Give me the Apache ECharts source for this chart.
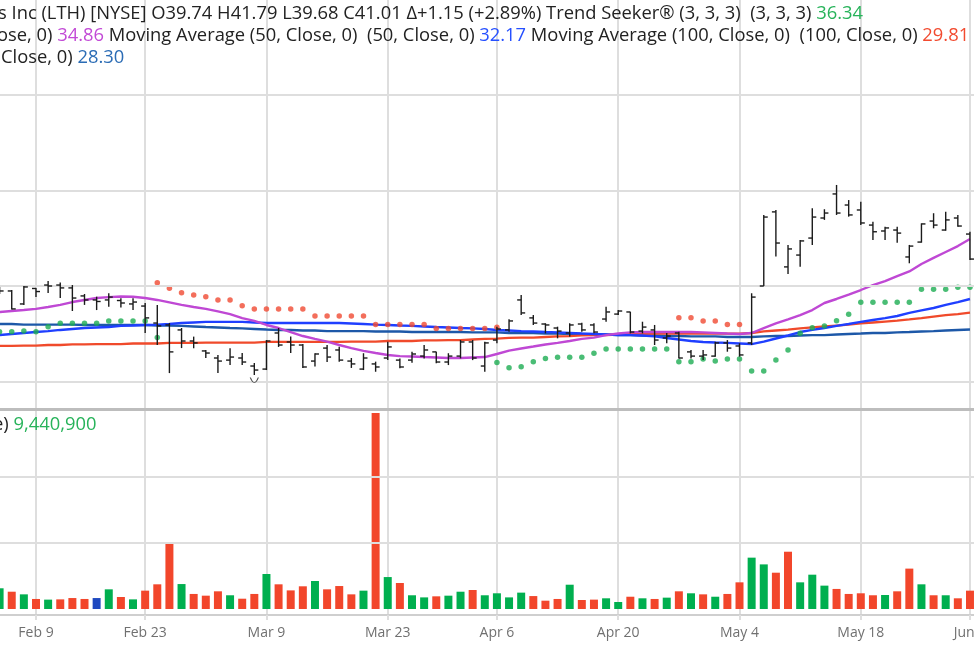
<!DOCTYPE html>
<html>
<head>
<meta charset="utf-8">
<script src="https://cdn.jsdelivr.net/npm/echarts@6/dist/echarts.min.js"></script>
<style>
  html, body { margin: 0; padding: 0; background: #fff; }
  #chart { width: 974px; height: 649px; }
</style>
</head>
<body>
<div id="chart"></div>
<script>
// trading days shown (2026), one extra empty day on the right edge
var dates = [
  '02-04','02-05','02-06','02-09','02-10','02-11','02-12','02-13','02-17','02-18',
  '02-19','02-20','02-23','02-24','02-25','02-26','02-27','03-02','03-03','03-04',
  '03-05','03-06','03-09','03-10','03-11','03-12','03-13','03-16','03-17','03-18',
  '03-19','03-20','03-23','03-24','03-25','03-26','03-27','03-30','03-31','04-01',
  '04-02','04-06','04-07','04-08','04-09','04-10','04-13','04-14','04-15','04-16',
  '04-17','04-20','04-21','04-22','04-23','04-24','04-27','04-28','04-29','04-30',
  '05-01','05-04','05-05','05-06','05-07','05-08','05-11','05-12','05-13','05-14',
  '05-15','05-18','05-19','05-20','05-21','05-22','05-26','05-27','05-28','05-29',
  '06-01','06-02'
]
var tickDates = ['02-09','02-23','03-09','03-23','04-06','04-20','05-04','05-18','06-01']
var tickLabels = ['Feb 9','Feb 23','Mar 9','Mar 23','Apr 6','Apr 20','May 4','May 18','Jun 1']

var opens = [
  29.84,29.74,29.06,29.87,30.05,30.05,29.90,29.48,29.27,29.27,
  29.24,29.06,28.95,28.06,27.96,27.70,27.12,26.60,26.23,26.12,
  26.23,25.81,25.65,27.54,27.07,26.91,26.07,26.75,26.65,26.07,
  25.65,25.92,26.23,26.12,26.12,26.33,26.55,26.02,26.33,27.07,
  25.81,27.17,27.70,29.27,28.33,28.01,27.80,27.54,28.01,27.96,
  28.27,28.53,28.64,27.64,27.70,27.28,27.54,26.55,26.33,26.33,
  27.02,26.86,27.02,30.00,33.88,31.00,31.62,32.51,33.56,34.82,
  34.24,33.98,33.19,32.88,32.93,31.52,32.30,33.40,32.93,33.56,
  32.72
]
var highs = [
  29.95,29.79,30.00,29.90,30.26,30.18,30.05,29.58,29.44,29.62,
  29.36,29.36,29.11,29.01,28.06,27.80,27.35,26.65,26.39,26.74,
  26.49,25.97,27.17,27.80,27.35,26.96,26.48,26.91,26.82,26.23,
  26.48,26.04,27.08,26.21,26.56,26.91,26.56,26.48,27.17,27.17,
  27.08,27.87,28.26,29.53,28.48,28.05,27.87,28.05,28.08,28.05,
  28.92,28.74,28.65,28.13,27.96,27.54,27.61,26.65,26.65,27.08,
  27.17,27.00,29.62,33.72,33.98,32.15,32.41,34.07,34.02,35.29,
  34.50,34.41,33.37,33.10,33.10,32.15,33.28,33.81,33.89,33.72,
  32.84
]
var lows = [
  29.58,28.77,29.01,29.42,29.63,29.37,28.69,29.01,28.74,28.92,
  28.88,28.74,27.54,26.91,25.44,26.75,26.74,26.23,25.44,25.86,
  25.86,25.34,25.60,26.81,26.49,25.71,25.78,26.02,26.04,25.71,
  25.60,25.51,26.12,25.69,25.98,26.21,25.95,25.86,26.21,26.12,
  25.51,27.00,27.61,28.48,27.96,27.52,27.26,27.35,27.61,27.52,
  28.13,28.48,27.52,27.52,26.91,27.00,26.21,26.21,26.12,26.30,
  26.56,26.30,26.91,30.00,31.54,30.63,31.01,32.15,33.46,33.72,
  33.63,33.19,32.41,32.41,32.27,31.19,32.27,33.02,32.89,33.10,
  31.36
]
var closes = [
  29.74,28.80,29.95,29.71,30.00,29.90,29.37,29.27,29.19,29.42,
  29.11,29.16,28.33,27.91,26.55,27.12,27.02,26.49,26.07,26.28,
  26.02,25.60,27.12,26.91,26.91,25.76,26.44,26.28,26.12,25.92,
  26.23,25.76,26.81,25.76,26.44,26.65,26.02,26.33,27.07,26.23,
  27.02,27.75,28.17,28.59,28.06,27.96,27.64,27.96,27.70,27.59,
  28.64,28.69,27.59,27.85,27.17,27.38,26.23,26.33,26.39,27.02,
  26.75,26.39,29.42,33.61,32.25,31.94,32.36,33.61,33.82,33.82,
  33.72,33.30,32.84,33.04,32.77,32.09,33.25,33.19,33.46,33.14,
  31.41
]

var ma20 = [
  28.64,28.69,28.74,28.80,28.90,29.01,29.16,29.27,29.37,29.42,
  29.45,29.44,29.37,29.27,29.14,29.01,28.90,28.80,28.67,28.53,
  28.32,28.17,27.96,27.80,27.59,27.38,27.23,27.09,26.91,26.75,
  26.60,26.49,26.39,26.33,26.31,26.28,26.26,26.23,26.23,26.26,
  26.28,26.44,26.62,26.73,26.83,26.94,27.02,27.12,27.23,27.30,
  27.43,27.51,27.57,27.59,27.59,27.59,27.59,27.59,27.57,27.54,
  27.51,27.49,27.54,27.80,28.04,28.25,28.48,28.74,29.11,29.32,
  29.55,29.79,30.05,30.26,30.52,30.76,31.15,31.47,31.78,32.09,
  32.46
]
var ma50 = [
  27.43,27.49,27.54,27.59,27.64,27.70,27.75,27.80,27.83,27.85,
  27.91,27.93,27.96,27.98,28.01,28.06,28.09,28.12,28.12,28.12,
  28.12,28.09,28.06,28.06,28.06,28.06,28.06,28.06,28.06,28.04,
  28.01,27.98,27.96,27.93,27.91,27.88,27.85,27.83,27.80,27.78,
  27.75,27.70,27.67,27.64,27.62,27.59,27.57,27.54,27.51,27.49,
  27.46,27.43,27.43,27.41,27.36,27.28,27.20,27.12,27.07,27.04,
  27.02,26.99,26.96,27.09,27.25,27.41,27.59,27.70,27.80,27.91,
  28.01,28.12,28.22,28.32,28.43,28.59,28.72,28.85,29.01,29.16,
  29.32
]
var ma100 = [
  26.86,26.86,26.88,26.88,26.91,26.91,26.94,26.94,26.96,26.96,
  26.96,26.99,26.99,26.99,27.02,27.02,27.02,27.04,27.04,27.04,
  27.04,27.04,27.07,27.07,27.07,27.07,27.07,27.07,27.07,27.09,
  27.09,27.09,27.12,27.12,27.12,27.15,27.15,27.17,27.17,27.20,
  27.23,27.25,27.28,27.30,27.30,27.33,27.36,27.38,27.41,27.43,
  27.43,27.46,27.49,27.49,27.51,27.51,27.51,27.51,27.51,27.51,
  27.51,27.51,27.54,27.62,27.67,27.72,27.78,27.83,27.88,27.93,
  27.98,28.04,28.09,28.14,28.19,28.25,28.32,28.40,28.48,28.53,
  28.61
]
var ma200 = [
  28.01,28.01,27.98,27.98,27.98,27.98,27.98,27.96,27.96,27.96,
  27.96,27.96,27.96,27.93,27.93,27.91,27.88,27.85,27.83,27.80,
  27.78,27.75,27.72,27.70,27.70,27.67,27.67,27.64,27.64,27.64,
  27.64,27.62,27.62,27.62,27.59,27.59,27.59,27.59,27.59,27.57,
  27.57,27.57,27.54,27.54,27.54,27.51,27.51,27.49,27.49,27.46,
  27.46,27.43,27.43,27.41,27.41,27.38,27.38,27.36,27.36,27.36,
  27.33,27.33,27.33,27.36,27.38,27.38,27.41,27.43,27.43,27.46,
  27.49,27.51,27.54,27.54,27.57,27.59,27.62,27.64,27.67,27.70,
  27.72
]

// Trend Seeker stops: green below price, red above price
var seekerUp = [
  27.61,27.61,27.64,27.61,27.87,28.05,28.05,28.05,28.05,28.17,
  28.17,28.17,28.17,27.31,null,null,null,null,null,null,
  null,null,null,null,null,null,null,null,null,null,
  null,null,null,null,null,null,null,null,null,null,
  null,26.00,25.72,25.77,26.04,26.21,26.27,26.27,26.27,26.48,
  26.70,26.70,26.70,26.70,26.70,26.70,26.04,26.04,26.18,26.07,
  26.18,26.18,25.55,25.55,26.12,26.65,27.52,27.82,27.91,28.18,
  28.52,29.15,29.15,29.15,29.15,29.15,29.83,29.83,29.83,29.93,
  29.93
]
var seekerDown = [
  null,null,null,null,null,null,null,null,null,null,
  null,null,null,30.17,29.88,29.65,29.53,29.44,29.27,29.27,
  28.97,28.80,28.80,28.80,28.80,28.80,28.43,28.43,28.43,28.43,
  28.43,27.99,27.99,27.99,27.99,27.99,27.78,27.78,27.78,27.78,
  27.78,27.84,null,null,null,null,null,null,null,null,
  null,null,null,null,null,null,28.34,28.34,28.17,28.17,
  27.99,27.99,null,null,null,null,null,null,null,null,
  null,null,null,null,null,null,null,null,null,null,
  null
]
var eventDates = ['03-06']
var eventPrices = [25.08]

// volume in millions of shares; g = up, r = down, b = unchanged
var volumes = [
  1.57,1.31,1.11,0.76,0.71,0.73,0.83,0.76,0.83,1.49,
  0.91,0.73,1.39,1.87,5.02,1.89,1.14,1.01,1.34,1.04,
  0.78,1.14,2.65,1.87,1.41,1.72,2.12,1.49,1.74,1.11,
  1.39,14.85,2.42,1.97,1.04,0.88,0.96,1.01,1.31,1.44,
  1.04,1.19,0.88,1.24,0.98,0.63,0.76,1.84,0.68,0.71,
  0.81,0.53,0.93,0.81,0.76,0.86,1.34,1.19,1.11,0.93,
  1.14,2.02,3.89,3.38,2.75,4.34,2.02,2.60,1.77,1.52,
  1.14,1.19,1.04,1.06,1.34,3.06,1.87,1.04,1.04,0.81,
  1.39
]
var volumeDir = [
  'g','r','g','r','g','r','r','r','b','g',
  'r','g','r','r','r','g','r','r','r','g',
  'r','r','g','r','r','r','g','r','r','r',
  'g','r','g','r','g','g','r','g','g','r',
  'g','g','g','g','r','r','r','g','r','r',
  'g','g','r','g','r','g','r','g','r','g',
  'r','r','g','g','r','r','g','g','g','r',
  'r','r','r','g','r','r','g','r','g','r',
  'r'
]
var priceLevels = [25, 30, 35, 40]
var volumeLevels = [5, 10]

var dirColors = { g: '#00af4f', r: '#f2462b', b: '#1f49c0' }
var gridColor = '#dedede'
var fontFamily = '"Open Sans", sans-serif'
var headerSize = 18.35

function isTick(index, value) {
  return tickDates.indexOf(value) >= 0
}

function renderOhlc(params, api) {
  var i = api.value(0)
  var open = api.coord([i, api.value(1)])
  var yc = api.coord([i, api.value(2)])[1]
  var yl = api.coord([i, api.value(3)])[1]
  var yh = api.coord([i, api.value(4)])[1]
  var x = open[0]
  var style = { stroke: '#1b1b1b', lineWidth: 1.4 }
  return {
    type: 'group',
    children: [
      { type: 'line', shape: { x1: x, y1: yh, x2: x, y2: yl }, style: style },
      { type: 'line', shape: { x1: x - 4, y1: open[1], x2: x, y2: open[1] }, style: style },
      { type: 'line', shape: { x1: x, y1: yc, x2: x + 4, y2: yc }, style: style }
    ]
  }
}

function maSeries(name, data, color, width) {
  return {
    name: name, type: 'line', data: data, xAxisIndex: 0, yAxisIndex: 0,
    symbol: 'none', silent: true, z: 3,
    lineStyle: { color: color, width: width }
  }
}

var chart = echarts.init(document.getElementById('chart'), null, { renderer: 'canvas' })

function richStyle(color) {
  return { fill: color, fontSize: headerSize, fontFamily: fontFamily, lineHeight: 22 }
}
var textRich = {
  k: richStyle('#222'),
  g: richStyle('#27b35a'),
  p: richStyle('#c24ad6'),
  b: richStyle('#2650ff'),
  r: richStyle('#f24a2f'),
  d: richStyle('#2b6cb5')
}

function headerText(x, y, text) {
  return {
    type: 'text', x: x, y: y, z: 100, silent: true,
    style: { text: text, rich: textRich, font: headerSize + 'px ' + fontFamily, fill: '#222' }
  }
}

var option = {
  animation: false,
  backgroundColor: '#ffffff',
  grid: [
    { left: -0.4, width: 982.5, top: 0, height: 409.5, containLabel: false, outerBoundsMode: 'none' },
    { left: -0.4, width: 982.5, top: 411, height: 204, containLabel: false, outerBoundsMode: 'none' }
  ],
  xAxis: [
    {
      type: 'category', gridIndex: 0, data: dates, boundaryGap: false,
      axisLine: { show: true, onZero: false, lineStyle: { color: '#bdbdbd', width: 3 } },
      axisTick: { show: false },
      axisLabel: { show: false },
      splitLine: { show: true, interval: isTick, lineStyle: { color: gridColor, width: 2 } }
    },
    {
      type: 'category', gridIndex: 1, data: dates, boundaryGap: false,
      axisLine: { show: true, onZero: false, lineStyle: { color: '#cfcfcf', width: 2 } },
      axisTick: { show: true, interval: isTick, length: 5, lineStyle: { color: gridColor, width: 2 } },
      axisLabel: {
        show: true, interval: isTick, margin: 11,
        color: '#707070', fontSize: 14, fontFamily: fontFamily,
        formatter: function (value) { return tickLabels[tickDates.indexOf(value)] }
      },
      splitLine: { show: true, interval: isTick, lineStyle: { color: gridColor, width: 2 } }
    }
  ],
  yAxis: [
    { type: 'value', gridIndex: 0, min: 23.534, max: 44.974, show: false, splitLine: { show: false } },
    { type: 'value', gridIndex: 1, min: -0.4545, max: 15, show: false, splitLine: { show: false } }
  ],
  graphic: [
    headerText(-2, 3, '{k|s Inc (LTH) [NYSE] O39.74 H41.79 L39.68 C41.01 Δ+1.15 (+2.89%) Trend Seeker® (3, 3, 3)  (3, 3, 3) }{g|36.34}'),
    headerText(-3, 25, '{k|ose, 0) }{p|34.86}{k| Moving Average (50, Close, 0)  (50, Close, 0) }{b|32.17}{k| Moving Average (100, Close, 0)  (100, Close, 0) }{r|29.81}'),
    headerText(1, 47, '{k|Close, 0) }{d|28.30}'),
    headerText(-7, 414, '{k|e) }{g|9,440,900}')
  ],
  series: [
    {
      name: 'price grid', type: 'line', data: [], xAxisIndex: 0, yAxisIndex: 0, z: 1, silent: true,
      markLine: {
        silent: true, symbol: ['none', 'none'], label: { show: false },
        lineStyle: { color: gridColor, width: 2, type: 'solid' },
        data: priceLevels.map(function (v) { return { yAxis: v } })
      }
    },
    {
      name: 'volume grid', type: 'line', data: [], xAxisIndex: 1, yAxisIndex: 1, z: 1, silent: true,
      markLine: {
        silent: true, symbol: ['none', 'none'], label: { show: false },
        lineStyle: { color: gridColor, width: 2, type: 'solid' },
        data: volumeLevels.map(function (v) { return { yAxis: v } })
      }
    },
    maSeries('MA 200', ma200, '#1d58a8', 2.4),
    maSeries('MA 100', ma100, '#f04a2b', 2.3),
    maSeries('MA 50', ma50, '#1f3fff', 2.4),
    maSeries('MA 20', ma20, '#bf48d4', 2.4),
    {
      name: 'Trend Seeker up', type: 'scatter', data: seekerUp, xAxisIndex: 0, yAxisIndex: 0,
      symbolSize: 5.5, silent: true, z: 4, itemStyle: { color: '#1dad52' }
    },
    {
      name: 'Trend Seeker down', type: 'scatter', data: seekerDown, xAxisIndex: 0, yAxisIndex: 0,
      symbolSize: 5.5, silent: true, z: 4, itemStyle: { color: '#f04a32' }
    },
    {
      name: 'events', type: 'scatter', xAxisIndex: 0, yAxisIndex: 0, silent: true, z: 5,
      data: eventDates.map(function (d, k) { return [d, eventPrices[k]] }),
      symbol: 'path://M0,0 Q5,9 10,0', symbolSize: [8, 5],
      itemStyle: { color: 'none', borderColor: '#222', borderWidth: 1 }
    },
    {
      name: 'LTH', type: 'custom', xAxisIndex: 0, yAxisIndex: 0, z: 5, silent: true,
      renderItem: renderOhlc,
      encode: { x: 0, y: [1, 2, 3, 4] },
      data: opens.map(function (o, i) { return [i, o, closes[i], lows[i], highs[i]] })
    },
    {
      name: 'Volume', type: 'bar', xAxisIndex: 1, yAxisIndex: 1, barWidth: 8, silent: true, z: 3,
      data: volumes.map(function (v, i) {
        return { value: v, itemStyle: { color: dirColors[volumeDir[i]] } }
      })
    }
  ]
}

option && chart.setOption(option)
</script>
</body>
</html>
